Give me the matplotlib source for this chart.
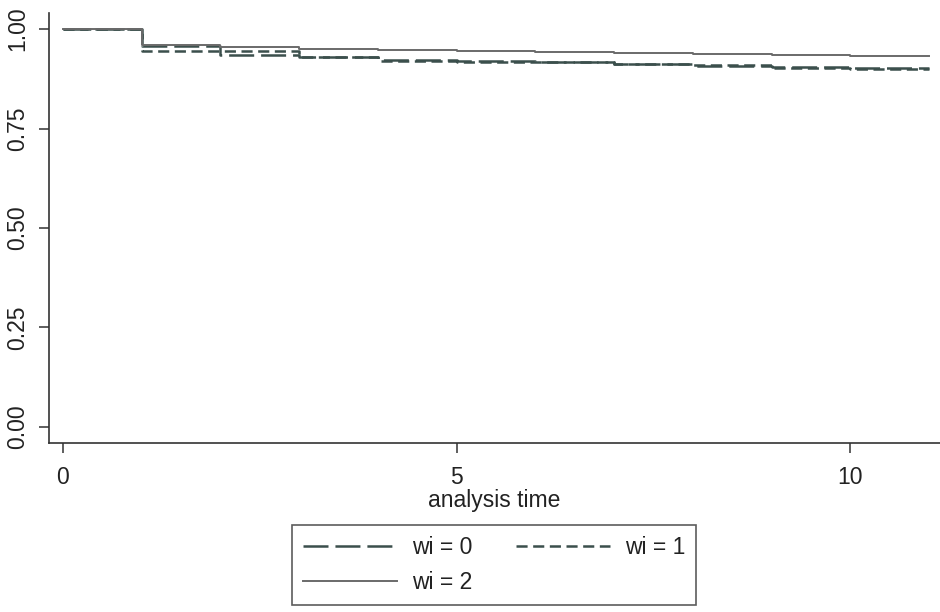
import matplotlib
matplotlib.use("Agg")
import matplotlib.pyplot as plt

plt.rcParams['font.family'] = ['Liberation Sans', 'DejaVu Sans']
plt.rcParams['lines.scale_dashes'] = False

# Kaplan-Meier survival estimates, one step per year of analysis time
times = [0, 1, 2, 3, 4, 5, 6, 7, 8, 9, 10, 11]
surv_wi0 = [1.0, 0.958, 0.935, 0.929, 0.923, 0.920, 0.918, 0.912, 0.908, 0.904, 0.902, 0.902]
surv_wi1 = [1.0, 0.945, 0.945, 0.930, 0.921, 0.918, 0.917, 0.913, 0.909, 0.903, 0.901, 0.901]
surv_wi2 = [1.0, 0.961, 0.955, 0.949, 0.947, 0.946, 0.943, 0.939, 0.937, 0.934, 0.932, 0.932]
labels = ['wi = 0', 'wi = 1', 'wi = 2']
y_ticks = [0.0, 0.25, 0.5, 0.75, 1.0]
y_ticklabels = ['0.00', '0.25', '0.50', '0.75', '1.00']
x_ticks = [0, 5, 10]

fig = plt.figure(figsize=(9.4, 6.12), dpi=100)
ax = fig.add_axes([0.0521, 0.2767, 0.9479, 0.7016])

l0, = ax.step(times, surv_wi0, where='post', color='#3b4f4c', lw=1.8, dashes=(18, 5))
l1, = ax.step(times, surv_wi1, where='post', color='#3b4f4c', lw=1.8, dashes=(8, 4))
l2, = ax.step(times, surv_wi2, where='post', color='#6a6a6a', lw=1.4)

ax.set_xlim(-0.178, 11.14)
ax.set_ylim(-0.0402, 1.040)

ax.spines['top'].set_visible(False)
ax.spines['right'].set_visible(False)
for s in ['left', 'bottom']:
    ax.spines[s].set_color('#333333')
    ax.spines[s].set_linewidth(1.2)

ax.set_yticks(y_ticks)
ax.set_yticklabels(y_ticklabels, rotation=90, va='center')
ax.set_xticks(x_ticks)
ax.tick_params(axis='both', length=7.5, width=1.1, color='#333333',
               labelsize=16.5, labelcolor='#222222')
ax.tick_params(axis='y', pad=7)
ax.tick_params(axis='x', pad=9)

ax.set_xlabel('analysis time', fontsize=16.5, color='#222222', labelpad=0)

# legend below the plot, filled row by row: wi=0, wi=1 / wi=2
handles = [l0, l2, l1]
names = [labels[0], labels[2], labels[1]]
leg = fig.legend(handles, names, ncol=2, loc='lower center',
                 bbox_to_anchor=(0.5255, 0.0114), fontsize=16.5,
                 handlelength=4.1, handletextpad=0.65, columnspacing=1.9,
                 labelspacing=0.5, borderpad=0.5, fancybox=False,
                 frameon=True, edgecolor='#333333', borderaxespad=0)
leg.get_frame().set_linewidth(1.2)
for t in leg.get_texts():
    t.set_color('#222222')

fig.savefig('out.png', dpi=100)
